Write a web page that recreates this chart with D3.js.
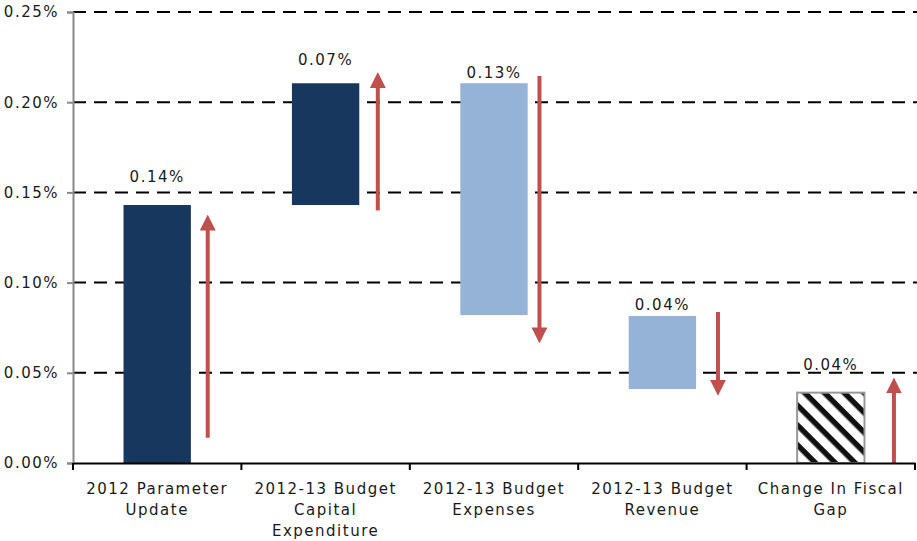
<!DOCTYPE html>
<html>
<head>
<meta charset="utf-8">
<script src="https://cdn.jsdelivr.net/npm/d3@7"></script>
<style>
  body { margin: 0; background: #fff; }
  text { font-family: 'DejaVu Sans', Verdana, sans-serif; fill: #1a1a1a; }
</style>
</head>
<body>
<svg></svg>
<script>
const w = 917
const h = 541

// data (values in percent)
const categories = ['2012 Parameter\nUpdate', '2012-13 Budget\nCapital\nExpenditure', '2012-13 Budget\nExpenses', '2012-13 Budget\nRevenue', 'Change In Fiscal\nGap']
const barLow = [0, 0.143, 0.082, 0.041, 0]
const barHigh = [0.143, 0.2105, 0.2105, 0.0815, 0.039]
const barKind = ['dark', 'dark', 'light', 'light', 'hatch']
const valueLabels = ['0.14%', '0.07%', '0.13%', '0.04%', '0.04%']
const labelAt = [0.1555, 0.2205, 0.2135, 0.0848, 0.0515]
const arrowFrom = [0.014, 0.140, 0.2145, 0.0837, 0]
const arrowTo = [0.1375, 0.2165, 0.0665, 0.0375, 0.0472]
const yTicks = [0, 0.05, 0.10, 0.15, 0.20, 0.25]

const mLeft = 73
const mRight = 915
const mTop = 12
const mBottom = 463

// arrow offset from band centre, as share of band width
const arrowShift = [0.30, 0.31, 0.27, 0.33, 0.375]

const fills = { dark: '#17375e', light: '#95b3d7', hatch: 'url(#hatch)' }
const red = '#c0504d'

const svg = d3.select('svg').attr('width', w).attr('height', h)

const defs = svg.append('defs')
const pat = defs.append('pattern')
  .attr('id', 'hatch')
  .attr('patternUnits', 'userSpaceOnUse')
  .attr('width', 14).attr('height', 14)
  .attr('patternTransform', 'rotate(45)')
pat.append('rect').attr('width', 14).attr('height', 14).attr('fill', '#fff')
pat.append('rect').attr('width', 14).attr('height', 5.5).attr('fill', '#111')

defs.append('marker')
  .attr('id', 'head')
  .attr('viewBox', '0 0 10 10')
  .attr('refX', 1).attr('refY', 5)
  .attr('markerWidth', 4).attr('markerHeight', 4)
  .attr('markerUnits', 'strokeWidth')
  .attr('orient', 'auto')
  .append('path')
  .attr('d', 'M0,0 L10,5 L0,10 Z')
  .attr('fill', red)

const x = d3.scaleBand().domain(categories).range([mLeft, mRight]).paddingInner(0).paddingOuter(0)
const y = d3.scaleLinear().domain([0, 0.25]).range([mBottom, mTop])

// gridlines
svg.append('g')
  .selectAll('line')
  .data(yTicks.slice(1))
  .join('line')
  .attr('x1', mLeft).attr('x2', w)
  .attr('y1', d => y(d)).attr('y2', d => y(d))
  .attr('stroke', '#000')
  .attr('stroke-width', 2)
  .attr('stroke-dasharray', '13,8')

// y axis
const yAxis = d3.axisLeft(y).tickValues(yTicks).tickFormat(d => d.toFixed(2) + '%').tickSize(6).tickPadding(8)
const gy = svg.append('g').attr('transform', `translate(${mLeft},0)`).call(yAxis)
gy.select('.domain').attr('stroke', '#888').attr('stroke-width', 2)
gy.selectAll('.tick line').attr('stroke', '#888').attr('stroke-width', 2)
gy.selectAll('.tick text').attr('font-size', 15).attr('letter-spacing', 1.5).attr('fill', '#1a1a1a')

const rows = categories.map((c, i) => ({ c, i, lo: barLow[i], hi: barHigh[i], kind: barKind[i], label: valueLabels[i], at: labelAt[i], from: arrowFrom[i], to: arrowTo[i] }))

const bw = x.bandwidth() * 0.4
const cx = d => x(d.c) + x.bandwidth() / 2

// bars
svg.append('g')
  .selectAll('rect')
  .data(rows)
  .join('rect')
  .attr('x', d => cx(d) - bw / 2)
  .attr('y', d => y(d.hi))
  .attr('width', bw)
  .attr('height', d => y(d.lo) - y(d.hi))
  .attr('fill', d => fills[d.kind])
  .attr('stroke', d => d.kind === 'hatch' ? '#999' : 'none')
  .attr('stroke-width', 2)

// value labels
svg.append('g')
  .selectAll('text')
  .data(rows)
  .join('text')
  .attr('x', cx)
  .attr('y', d => y(d.at))
  .attr('text-anchor', 'middle')
  .attr('font-size', 15)
  .attr('letter-spacing', 1.5)
  .text(d => d.label)

// arrows
const ax = d => cx(d) + x.bandwidth() * arrowShift[d.i]
svg.append('g')
  .selectAll('line')
  .data(rows)
  .join('line')
  .attr('x1', ax)
  .attr('x2', ax)
  .attr('y1', d => y(d.from))
  .attr('y2', d => y(d.to) + (d.to > d.from ? 14 : -14))
  .attr('stroke', red)
  .attr('stroke-width', 4)
  .attr('marker-end', 'url(#head)')

// x axis
const xAxis = d3.axisBottom(x).tickSize(0).tickFormat('')
const gx = svg.append('g').attr('transform', `translate(0,${mBottom})`).call(xAxis)
gx.select('.domain').attr('stroke', '#000').attr('stroke-width', 2)
gx.selectAll('.edge')
  .data(categories.concat(['end']))
  .join('line')
  .attr('class', 'edge')
  .attr('x1', (d, i) => i < categories.length ? x(d) : mRight)
  .attr('x2', (d, i) => i < categories.length ? x(d) : mRight)
  .attr('y1', 0).attr('y2', 7)
  .attr('stroke', '#000').attr('stroke-width', 2)

const lab = svg.append('g')
  .selectAll('text')
  .data(categories)
  .join('text')
  .attr('x', d => x(d) + x.bandwidth() / 2)
  .attr('y', mBottom + 31)
  .attr('text-anchor', 'middle')
  .attr('font-size', 15)
  .attr('letter-spacing', 1.5)
lab.selectAll('tspan')
  .data(d => d.split('\n'))
  .join('tspan')
  .attr('x', function () { return d3.select(this.parentNode).attr('x') })
  .attr('dy', (d, i) => i === 0 ? 0 : 21)
  .text(d => d)
</script>
</body>
</html>
